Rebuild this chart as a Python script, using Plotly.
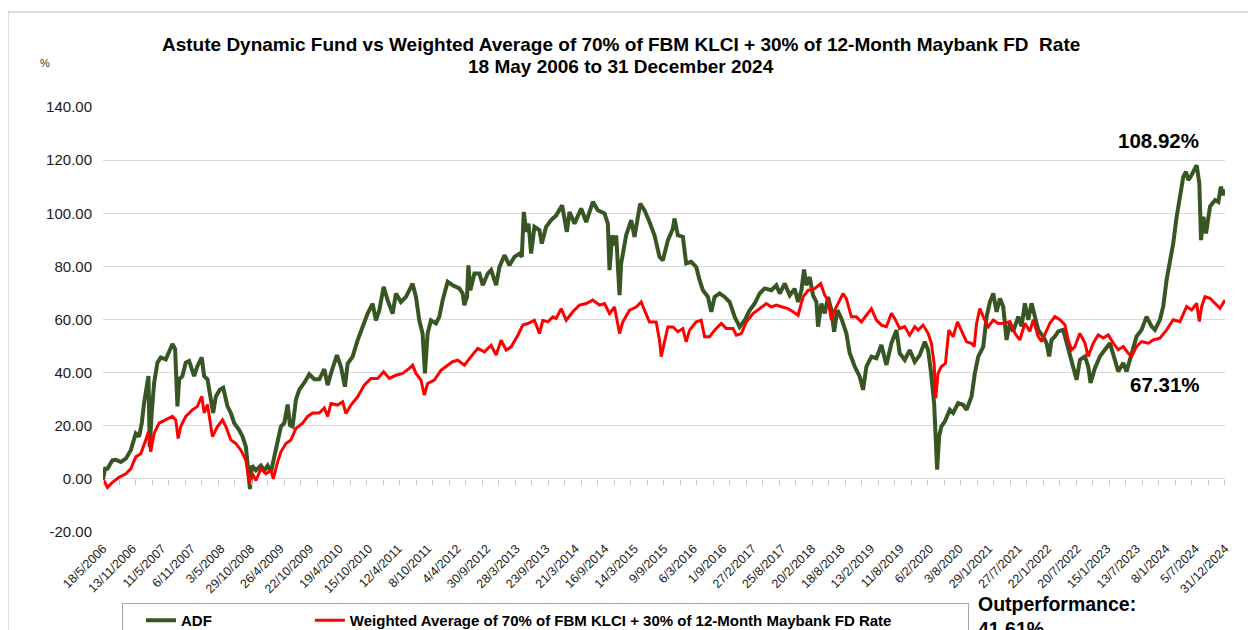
import pandas as pd
import plotly.graph_objects as go

# ---------------- data (time in decimal years, values in %) ----------------
adf_t = [2006.377, 2006.41, 2006.449, 2006.532, 2006.587, 2006.671, 2006.754, 2006.837, 2006.920, 2006.975,
         2007.019, 2007.058, 2007.130, 2007.152, 2007.185, 2007.224, 2007.280, 2007.335, 2007.418, 2007.473,
         2007.529, 2007.573, 2007.612, 2007.640, 2007.695, 2007.750, 2007.806, 2007.889, 2007.944, 2008.016,
         2008.055, 2008.110, 2008.166, 2008.204, 2008.249, 2008.315, 2008.371, 2008.442, 2008.498, 2008.553,
         2008.636, 2008.692, 2008.747, 2008.786, 2008.814, 2008.847, 2008.913, 2008.996, 2009.051, 2009.107,
         2009.162, 2009.217, 2009.273, 2009.328, 2009.384, 2009.439, 2009.478, 2009.522, 2009.577, 2009.633,
         2009.716, 2009.799, 2009.882, 2009.965, 2010.048, 2010.104, 2010.159, 2010.258, 2010.325, 2010.391,
         2010.436, 2010.519, 2010.602, 2010.685, 2010.768, 2010.851, 2010.906, 2010.962, 2011.034, 2011.100,
         2011.183, 2011.238, 2011.321, 2011.405, 2011.515, 2011.571, 2011.626, 2011.681, 2011.720, 2011.764,
         2011.820, 2011.903, 2011.958, 2012.014, 2012.097, 2012.180, 2012.290, 2012.346, 2012.373, 2012.418,
         2012.440, 2012.473, 2012.540, 2012.623, 2012.678, 2012.761, 2012.817, 2012.900, 2012.955, 2013.038,
         2013.121, 2013.204, 2013.287, 2013.326, 2013.359, 2013.398, 2013.437, 2013.481, 2013.536, 2013.619,
         2013.658, 2013.730, 2013.813, 2013.897, 2013.996, 2014.074, 2014.118, 2014.201, 2014.312, 2014.395,
         2014.506, 2014.589, 2014.700, 2014.755, 2014.783, 2014.827, 2014.866, 2014.893, 2014.921, 2014.949,
         2014.976, 2015.059, 2015.143, 2015.198, 2015.292, 2015.364, 2015.447, 2015.530, 2015.613, 2015.669,
         2015.752, 2015.835, 2015.862, 2015.918, 2016.001, 2016.056, 2016.139, 2016.222, 2016.278, 2016.333,
         2016.416, 2016.472, 2016.527, 2016.610, 2016.693, 2016.776, 2016.859, 2016.942, 2017.025, 2017.108,
         2017.191, 2017.274, 2017.357, 2017.468, 2017.551, 2017.607, 2017.690, 2017.773, 2017.856, 2017.912,
         2017.967, 2018.011, 2018.050, 2018.105, 2018.161, 2018.216, 2018.244, 2018.299, 2018.355, 2018.410,
         2018.465, 2018.510, 2018.565, 2018.631, 2018.714, 2018.770, 2018.853, 2018.936, 2018.991, 2019.047,
         2019.130, 2019.213, 2019.296, 2019.379, 2019.462, 2019.545, 2019.600, 2019.683, 2019.766, 2019.850,
         2019.933, 2020.016, 2020.071, 2020.115, 2020.171, 2020.198, 2020.221, 2020.254, 2020.292, 2020.348,
         2020.431, 2020.486, 2020.569, 2020.652, 2020.708, 2020.791, 2020.846, 2020.902, 2020.985, 2021.040,
         2021.095, 2021.151, 2021.206, 2021.262, 2021.316, 2021.372, 2021.427, 2021.482, 2021.566, 2021.621,
         2021.676, 2021.732, 2021.787, 2021.842, 2021.898, 2021.981, 2022.036, 2022.080, 2022.119, 2022.175,
         2022.230, 2022.313, 2022.368, 2022.424, 2022.479, 2022.535, 2022.590, 2022.673, 2022.728, 2022.767,
         2022.839, 2022.922, 2023.005, 2023.088, 2023.171, 2023.227, 2023.310, 2023.365, 2023.420, 2023.476,
         2023.531, 2023.614, 2023.697, 2023.780, 2023.836, 2023.919, 2023.974, 2024.030, 2024.085, 2024.140,
         2024.196, 2024.251, 2024.306, 2024.351, 2024.389, 2024.445, 2024.528, 2024.572, 2024.600, 2024.639,
         2024.683, 2024.749, 2024.832, 2024.888, 2024.927, 2024.971, 2024.999]
adf_v = [0.0, 3.8, 3.8, 7.0, 7.2, 6.4, 7.6, 10.8, 17.1, 15.9,
         21.0, 28.6, 38.7, 12.0, 25.0, 36.0, 43.8, 45.7, 45.0, 47.6,
         50.8, 48.9, 27.3, 37.5, 38.7, 43.8, 44.4, 38.7, 42.5, 45.7,
         38.7, 37.5, 31.0, 24.8, 31.0, 33.6, 34.3, 27.3, 24.8, 21.0,
         18.4, 15.9, 12.0, 4.4, -3.8, 5.0, 3.2, 5.0, 3.2, 5.0,
         2.5, 8.3, 14.6, 19.7, 21.0, 28.0, 20.3, 19.7, 29.8, 33.6,
         36.2, 39.4, 37.5, 37.5, 41.3, 35.3, 39.7, 46.6, 42.2, 34.7,
         43.4, 46.0, 52.2, 57.2, 62.2, 66.0, 59.7, 63.5, 72.3, 67.3,
         62.2, 69.8, 66.6, 68.5, 73.5, 68.5, 59.7, 54.7, 39.7, 54.7,
         59.7, 58.5, 61.0, 67.3, 74.2, 72.9, 71.7, 69.8, 65.4, 68.5,
         80.4, 71.0, 77.3, 77.3, 72.9, 77.3, 78.6, 72.9, 79.8, 84.2,
         80.4, 83.6, 84.8, 83.6, 100.5, 93.0, 96.1, 84.8, 94.9, 93.6,
         88.6, 94.9, 97.4, 99.2, 103.0, 93.0, 100.5, 96.1, 101.8, 96.7,
         104.3, 101.1, 99.9, 96.1, 78.6, 91.7, 87.9, 91.7, 78.6, 69.2,
         81.1, 91.7, 97.4, 91.1, 103.6, 101.1, 96.7, 91.7, 83.6, 82.3,
         89.8, 94.2, 98.0, 91.7, 91.1, 81.1, 81.7, 79.8, 74.8, 71.0,
         68.5, 62.9, 68.5, 69.8, 68.5, 66.6, 61.0, 57.2, 59.7, 63.5,
         66.0, 69.8, 71.7, 71.0, 72.9, 69.8, 73.5, 69.1, 71.6, 66.6,
         71.0, 78.8, 72.9, 76.0, 69.1, 66.6, 57.3, 66.0, 62.3, 68.5,
         63.5, 55.4, 63.5, 60.4, 54.8, 47.3, 42.3, 38.5, 33.5, 42.3,
         46.0, 45.4, 50.4, 42.9, 51.0, 56.0, 47.3, 44.8, 48.5, 44.1,
         46.6, 51.6, 48.5, 41.0, 28.5, 16.0, 3.5, 16.0, 19.8, 21.6,
         26.0, 24.8, 28.5, 27.9, 26.0, 31.0, 39.8, 46.0, 49.8, 61.0,
         66.6, 69.8, 62.9, 67.9, 64.9, 52.3, 58.6, 55.5, 61.1, 57.4,
         66.1, 59.9, 66.1, 61.1, 56.1, 53.6, 51.1, 46.1, 52.3, 53.6,
         55.5, 56.1, 51.1, 46.1, 41.1, 37.3, 44.8, 46.1, 42.3, 36.1,
         41.7, 46.1, 48.6, 51.1, 44.8, 40.4, 43.6, 40.4, 44.8, 49.8,
         53.6, 56.1, 61.1, 57.4, 56.1, 59.9, 64.9, 74.9, 81.2, 88.7,
         98.7, 106.2, 113.7, 115.6, 112.5, 114.4, 118.1, 111.2, 89.9, 98.7,
         92.4, 102.5, 105.0, 104.3, 110.0, 106.8, 108.92]

bm_t = [2006.377, 2006.449, 2006.532, 2006.643, 2006.754, 2006.837, 2006.920, 2007.003, 2007.086, 2007.130,
        2007.169, 2007.224, 2007.307, 2007.418, 2007.529, 2007.584, 2007.623, 2007.667, 2007.750, 2007.861,
        2007.944, 2008.016, 2008.055, 2008.110, 2008.193, 2008.276, 2008.359, 2008.415, 2008.498, 2008.581,
        2008.664, 2008.747, 2008.802, 2008.858, 2008.913, 2008.996, 2009.079, 2009.162, 2009.201, 2009.273,
        2009.328, 2009.411, 2009.494, 2009.577, 2009.688, 2009.771, 2009.854, 2009.965, 2010.048, 2010.104,
        2010.159, 2010.269, 2010.353, 2010.408, 2010.491, 2010.602, 2010.712, 2010.823, 2010.934, 2011.034,
        2011.128, 2011.238, 2011.349, 2011.460, 2011.515, 2011.571, 2011.654, 2011.709, 2011.764, 2011.875,
        2011.986, 2012.097, 2012.180, 2012.263, 2012.373, 2012.484, 2012.595, 2012.706, 2012.817, 2012.900,
        2012.983, 2013.066, 2013.149, 2013.260, 2013.343, 2013.426, 2013.536, 2013.619, 2013.675, 2013.758,
        2013.841, 2013.897, 2013.980, 2014.063, 2014.174, 2014.284, 2014.395, 2014.506, 2014.617, 2014.700,
        2014.783, 2014.866, 2014.949, 2015.004, 2015.115, 2015.226, 2015.309, 2015.364, 2015.447, 2015.558,
        2015.613, 2015.641, 2015.696, 2015.752, 2015.835, 2015.918, 2016.001, 2016.056, 2016.112, 2016.222,
        2016.305, 2016.361, 2016.444, 2016.527, 2016.638, 2016.721, 2016.831, 2016.887, 2016.970, 2017.053,
        2017.164, 2017.302, 2017.385, 2017.468, 2017.551, 2017.635, 2017.745, 2017.829, 2017.912, 2017.995,
        2018.078, 2018.188, 2018.288, 2018.355, 2018.410, 2018.465, 2018.521, 2018.604, 2018.659, 2018.714,
        2018.797, 2018.880, 2018.964, 2019.047, 2019.130, 2019.213, 2019.296, 2019.379, 2019.462, 2019.517,
        2019.600, 2019.683, 2019.766, 2019.850, 2019.905, 2019.988, 2020.071, 2020.126, 2020.171, 2020.198,
        2020.237, 2020.292, 2020.359, 2020.414, 2020.486, 2020.558, 2020.625, 2020.708, 2020.791, 2020.835,
        2020.874, 2020.929, 2020.985, 2021.068, 2021.151, 2021.234, 2021.344, 2021.427, 2021.510, 2021.593,
        2021.676, 2021.759, 2021.815, 2021.898, 2021.953, 2022.036, 2022.092, 2022.175, 2022.258, 2022.341,
        2022.396, 2022.451, 2022.507, 2022.590, 2022.673, 2022.728, 2022.811, 2022.894, 2022.977, 2023.061,
        2023.144, 2023.227, 2023.310, 2023.393, 2023.448, 2023.531, 2023.614, 2023.725, 2023.808, 2023.919,
        2024.030, 2024.140, 2024.251, 2024.362, 2024.445, 2024.528, 2024.572, 2024.611, 2024.666, 2024.749,
        2024.832, 2024.915, 2024.999]
bm_v = [0.0, -3.2, -1.3, 0.6, 1.9, 3.8, 8.3, 9.5, 14.6, 17.8,
        10.2, 17.1, 21.0, 22.2, 23.5, 22.2, 15.2, 19.7, 23.5, 26.0,
        27.3, 31.1, 24.8, 28.0, 15.9, 19.7, 22.2, 19.7, 14.6, 13.3,
        10.8, 7.0, -1.3, 1.9, -0.6, 3.8, 1.9, 3.2, 0.0, 6.4,
        10.2, 13.3, 14.6, 19.0, 21.0, 23.5, 24.8, 24.8, 26.7, 23.5,
        28.4, 27.8, 29.0, 24.6, 27.8, 30.9, 35.3, 37.8, 37.8, 40.3,
        37.8, 39.0, 39.7, 41.6, 42.8, 39.7, 37.2, 31.5, 35.9, 37.2,
        40.9, 42.8, 44.1, 44.7, 42.8, 46.0, 49.1, 47.8, 50.3, 46.6,
        52.2, 48.5, 49.7, 54.1, 57.9, 58.5, 59.7, 54.7, 59.7, 59.1,
        61.0, 60.4, 64.1, 59.7, 62.9, 65.4, 66.0, 67.3, 65.4, 66.0,
        62.2, 64.7, 54.7, 59.1, 63.5, 64.7, 66.6, 63.5, 59.1, 59.1,
        52.2, 46.0, 51.0, 57.2, 57.2, 55.4, 56.6, 51.6, 56.0, 59.1,
        59.7, 53.5, 53.5, 56.0, 58.5, 56.6, 56.6, 54.1, 54.7, 59.1,
        62.2, 64.7, 66.0, 64.7, 65.4, 64.8, 64.1, 62.9, 61.6, 68.5,
        71.0, 71.6, 73.5, 69.1, 67.3, 59.8, 63.5, 67.3, 69.8, 67.9,
        61.0, 61.0, 59.1, 61.6, 64.1, 59.8, 57.9, 57.3, 62.3, 60.4,
        56.6, 57.3, 54.1, 57.3, 56.0, 57.9, 54.8, 51.0, 43.5, 30.4,
        39.8, 42.3, 43.5, 56.0, 53.5, 59.1, 56.0, 51.6, 51.0, 49.8,
        58.5, 64.1, 61.0, 57.3, 59.8, 58.5, 58.6, 59.2, 54.8, 52.3,
        58.6, 55.5, 59.9, 53.6, 51.7, 55.5, 58.6, 61.1, 59.9, 58.0,
        52.3, 48.6, 49.8, 54.8, 51.1, 46.1, 51.1, 54.2, 53.0, 54.2,
        51.1, 48.6, 49.8, 47.3, 46.1, 49.8, 51.7, 51.1, 52.3, 53.0,
        56.1, 59.9, 59.2, 64.9, 63.6, 66.1, 59.2, 64.9, 68.6, 68.0,
        66.1, 64.2, 67.31]

tick_labels = ["18/5/2006", "13/11/2006", "11/5/2007", "6/11/2007", "3/5/2008", "29/10/2008", "26/4/2009",
               "22/10/2009", "19/4/2010", "15/10/2010", "12/4/2011", "8/10/2011", "4/4/2012", "30/9/2012",
               "28/3/2013", "23/9/2013", "21/3/2014", "16/9/2014", "14/3/2015", "9/9/2015", "6/3/2016",
               "1/9/2016", "27/2/2017", "25/8/2017", "20/2/2018", "18/8/2018", "13/2/2019", "11/8/2019",
               "6/2/2020", "3/8/2020", "29/1/2021", "27/7/2021", "22/1/2022", "20/7/2022", "15/1/2023",
               "13/7/2023", "8/1/2024", "5/7/2024", "31/12/2024"]

y_ticks = [-20, 0, 20, 40, 60, 80, 100, 120, 140]
y_tick_text = ["-20.00", "0.00", "20.00", "40.00", "60.00", "80.00", "100.00", "120.00", "140.00"]

series_names = ["ADF", "Weighted Average of 70% of FBM KLCI + 30% of 12-Month Maybank FD Rate"]
title_lines = ["Astute Dynamic Fund vs Weighted Average of 70% of FBM KLCI + 30% of 12-Month Maybank FD  Rate",
               "18 May 2006 to 31 December 2024"]
end_labels = ["108.92%", "67.31%"]
outperformance = ["Outperformance:", "41.61%"]


def to_date(t):
    y = int(t)
    start = pd.Timestamp(year=y, month=1, day=1)
    ndays = 366 if (y % 4 == 0) else 365
    return start + pd.Timedelta(days=(t - y) * ndays)


adf_x = [to_date(t) for t in adf_t]
bm_x = [to_date(t) for t in bm_t]
tick_vals = [pd.to_datetime(s, dayfirst=True) for s in tick_labels]

GREEN = "#375623"
RED = "#FF0000"
FONT = "Liberation Sans, Arial, sans-serif"
NB = "\u00a0"

# The page body has an 8px margin, so the figure starts at screen (8, 8).
OFF = 8
FIG_W, FIG_H = 1256 - OFF, 630 - OFF
# plot-area geometry in screen pixels
L, R, T, B = 103, 1225, 107, 532
W, H = R - L, B - T


def px(x):
    return (x - L) / W


def py(y):
    return (B - y) / H


fig = go.Figure()
fig.add_trace(go.Scatter(x=adf_x, y=adf_v, mode="lines", name="<b>" + series_names[0] + "</b>" + NB * 18,
                         line=dict(color=GREEN, width=4)))
fig.add_trace(go.Scatter(x=bm_x, y=bm_v, mode="lines", name="<b>" + series_names[1] + "</b>" + NB * 17,
                         line=dict(color=RED, width=3)))
# helper (empty) trace so the minor tick axis on the zero line is drawn
fig.add_trace(go.Scatter(x=[adf_x[0]], y=[None], xaxis="x2", mode="lines", showlegend=False,
                         hoverinfo="skip"))

x_start = pd.Timestamp("2006-05-18")
x_end = pd.Timestamp("2024-12-31")

fig.update_layout(
    width=FIG_W, height=FIG_H,
    margin=dict(l=L - OFF, r=FIG_W - (R - OFF), t=T - OFF, b=FIG_H - (B - OFF), autoexpand=False),
    paper_bgcolor="white", plot_bgcolor="white",
    font=dict(family=FONT, color="#000000"),
    xaxis=dict(type="date", range=[x_start, x_end], tickmode="array", tickvals=tick_vals, ticktext=tick_labels,
               tickangle=-45, showgrid=False, zeroline=False, showline=False, ticks="", automargin=False,
               ticklabelstandoff=6, tickfont=dict(size=12.5, family=FONT, color="#1a1a1a")),
    xaxis2=dict(type="date", overlaying="x", matches="x", anchor="free", position=0.125, side="bottom",
                range=[x_start, x_end], tick0=x_start, dtick=100 * 86400000, ticks="outside", ticklen=5,
                tickcolor="#C8C8C8", tickwidth=1, showticklabels=False, showgrid=False, showline=False,
                zeroline=False, automargin=False),
    yaxis=dict(range=[-20, 140], tickmode="array", tickvals=y_ticks, ticktext=y_tick_text,
               gridcolor="#D9D9D9", gridwidth=1, zeroline=False, showline=False, ticks="", automargin=False,
               ticklabelstandoff=10, tickfont=dict(size=15, family=FONT, color="#1a1a1a")),
    showlegend=True,
    legend=dict(orientation="h", x=px(122), xanchor="left", y=py(603), yanchor="top",
                bordercolor="#A6A6A6", borderwidth=1, bgcolor="white", indentation=18,
                font=dict(size=15, family=FONT, color="#000000"), itemwidth=30, tracegroupgap=0),
)

# Title (two lines)
fig.add_annotation(xref="paper", yref="paper", x=px(621), y=py(45), text="<b>" + title_lines[0] + "</b>",
                   showarrow=False, xanchor="center", yanchor="middle",
                   font=dict(size=19, family=FONT, color="#000000"))
fig.add_annotation(xref="paper", yref="paper", x=px(621), y=py(67), text="<b>" + title_lines[1] + "</b>",
                   showarrow=False, xanchor="center", yanchor="middle",
                   font=dict(size=19, family=FONT, color="#000000"))

# Outer chart border
fig.add_shape(type="rect", xref="paper", yref="paper", x0=px(8), x1=px(1300), y0=py(700),
              y1=py(12), line=dict(color="#BFBFBF", width=1), fillcolor="rgba(0,0,0,0)", layer="below")

# % label
fig.add_annotation(xref="paper", yref="paper", x=px(45), y=py(55), text="%",
                   showarrow=False, font=dict(size=11, family=FONT, color="#333333"), xanchor="center")

# End value labels
fig.add_annotation(xref="paper", yref="paper", x=px(1158), y=py(140),
                   text="<b>" + end_labels[0] + "</b>", showarrow=False,
                   font=dict(size=20.5, family=FONT, color="#000000"), xanchor="center", yanchor="middle")
fig.add_annotation(xref="paper", yref="paper", x=px(1165), y=py(384),
                   text="<b>" + end_labels[1] + "</b>", showarrow=False,
                   font=dict(size=20.5, family=FONT, color="#000000"), xanchor="center", yanchor="middle")

# Outperformance (two lines in one text block; the second line runs off the bottom edge as in the source)
fig.add_annotation(xref="paper", yref="paper", x=px(976), y=py(591),
                   text="<b>" + outperformance[0] + "<br>" + outperformance[1] + "</b>", showarrow=False,
                   align="left", font=dict(size=19.5, family=FONT, color="#000000"),
                   xanchor="left", yanchor="top")

fig.write_html("out.html")
